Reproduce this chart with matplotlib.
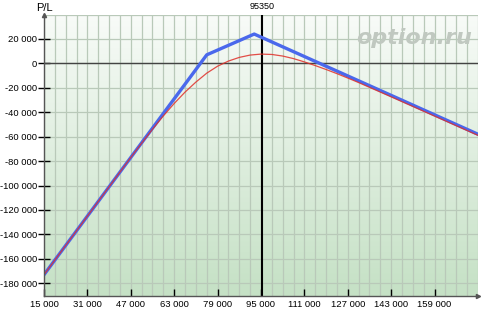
import numpy as np
from matplotlib import pyplot as plt

# P/L at expiration (blue broken line), vertices
expiry_x = [15000, 75000, 92500, 175000]
expiry_pl = [-173000, 7000, 24000, -58000]

# P/L today (red curve)
today_x = [15000, 31000, 47000, 51000, 55000, 59000, 63000, 67000, 71000, 75000,
           79000, 83000, 87000, 91000, 95000, 99000, 103000, 107000, 111000,
           115000, 119000, 123000, 127000, 131000, 135000, 139000, 143000, 175000]
today_pl = [-173000, -125000, -77000, -65300, -53900, -43000, -32800, -23500, -15300,
            -8000, -2300, 1900, 4900, 6800, 7600, 7300, 6000, 3900, 1200,
            -1800, -5000, -8400, -12000, -15700, -19600, -23500, -27400, -58900]

spot = 95350
x_ticks = [15000, 31000, 47000, 63000, 79000, 95000, 111000, 127000, 143000, 159000]
y_ticks = list(range(-180000, 20001, 20000))


def fmt(v):
    return "{:,}".format(v).replace(",", " ")


plt.rcParams['font.family'] = ['Liberation Sans', 'DejaVu Sans']

fig = plt.figure(figsize=(4.89, 3.16), dpi=100)
ax = fig.add_axes([44 / 489, 20 / 316, 434 / 489, 281 / 316])
x0, x1 = 15000, 175000
y0, y1 = -190400, 39600
ax.set_xlim(x0, x1)
ax.set_ylim(y0, y1)

# background gradient, white on top to light green at bottom
top = np.array([248, 251, 248]) / 255
bot = np.array([197, 225, 197]) / 255
t = np.linspace(0, 1, 256)[:, None]
grad = (top * (1 - t) + bot * t)[:, None, :]
ax.imshow(grad, extent=[x0, x1, y0, y1], aspect='auto', zorder=0, origin='upper')

# grid
for gx in range(15000, 175001, 4000):
    ax.axvline(gx, color='#b9c9b9', lw=0.9, zorder=1)
for gy in range(-180000, 40001, 20000):
    ax.axhline(gy, color='#b9c9b9', lw=0.9, zorder=1)
ax.axhline(0, color='#444444', lw=1.0, zorder=2)

# watermark
ax.text(0.986, 0.918, "option.ru", transform=ax.transAxes, ha='right', va='center',
        fontsize=16, fontweight='bold', fontstyle='italic', family='DejaVu Sans',
        color='#c0c8c0', zorder=2)

# spot line
ax.axvline(spot, color='black', lw=1.5, zorder=3)
ax.annotate(str(spot), xy=(spot, y1), xycoords='data', xytext=(0, 3),
            textcoords='offset points', ha='center', va='bottom', fontsize=6.5,
            annotation_clip=False)

ax.plot(expiry_x, expiry_pl, color='#4a68ec', lw=2.4, zorder=4)
ax.plot(today_x, today_pl, color='#e0302a', lw=0.9, alpha=0.85, zorder=5)

# axes
for s in ['top', 'right']:
    ax.spines[s].set_visible(False)
for s in ['left', 'bottom']:
    ax.spines[s].set_color('#555555')
    ax.spines[s].set_linewidth(1.0)
    ax.spines[s].set_zorder(6)
ax.plot(0, 1, '^', transform=ax.transAxes, clip_on=False, ms=3, color='#555555')
ax.plot(1, 0, '>', transform=ax.transAxes, clip_on=False, ms=3, color='#555555')

ax.set_xticks(x_ticks)
ax.set_xticklabels([fmt(v) for v in x_ticks], fontsize=6.8)
ax.set_yticks(y_ticks)
ax.set_yticklabels([fmt(v) for v in y_ticks], fontsize=6.8)
ax.tick_params(axis='x', direction='in', length=5, width=1, color='black', pad=3)
ax.tick_params(axis='y', direction='inout', length=8, width=1, color='black', pad=1)

ax.annotate("P/L", xy=(0, 1), xycoords='axes fraction', xytext=(0, 1.5),
            textcoords='offset points', ha='center', va='bottom', fontsize=8,
            annotation_clip=False)

fig.savefig("out.png", dpi=100)
